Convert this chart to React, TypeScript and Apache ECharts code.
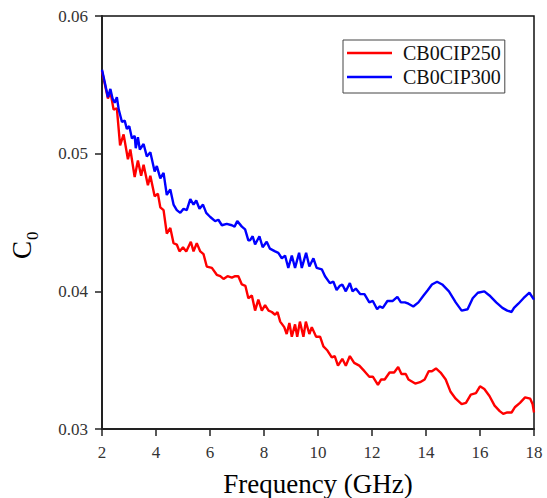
import React, { useEffect, useRef } from "react";
import * as echarts from "echarts";

const seriesNames = ["CB0CIP250", "CB0CIP300"];
const xTicks = [2, 4, 6, 8, 10, 12, 14, 16, 18];
const yTicks = [0.03, 0.04, 0.05, 0.06];

const freq250 = [
  2.0, 2.1, 2.22, 2.31, 2.43, 2.55, 2.67, 2.8, 2.96, 3.05, 3.21, 3.33, 3.45, 3.54, 3.7, 3.79, 3.95, 4.07, 4.16, 4.28,
  4.4, 4.53, 4.65, 4.77, 4.87, 5.0, 5.12, 5.29, 5.39, 5.51, 5.64, 5.76, 5.88, 6.07, 6.25, 6.38, 6.5, 6.65, 6.81, 6.93,
  7.05, 7.18, 7.31, 7.42, 7.55, 7.67, 7.79, 7.92, 8.04, 8.17, 8.29, 8.41, 8.5, 8.6, 8.75, 8.84, 8.94, 9.03, 9.15, 9.23,
  9.33, 9.46, 9.55, 9.68, 9.77, 9.93, 10.08, 10.2, 10.35, 10.51, 10.62, 10.74, 10.9, 11.03, 11.18, 11.34, 11.53, 11.72,
  11.9, 12.03, 12.22, 12.34, 12.47, 12.65, 12.82, 12.97, 13.09, 13.25, 13.35, 13.6, 13.78, 13.95, 14.1, 14.22, 14.37,
  14.54, 14.73, 14.91, 15.1, 15.32, 15.48, 15.66, 15.85, 16.0, 16.16, 16.35, 16.54, 16.73, 16.86, 17.01, 17.17, 17.3,
  17.48, 17.67, 17.86, 17.95, 18.0,
];
const c250 = [
  0.056, 0.0551, 0.054, 0.0545, 0.0532, 0.0533, 0.0506, 0.0514, 0.0496, 0.0503, 0.0483, 0.0495, 0.0484, 0.0492, 0.0477,
  0.0484, 0.0469, 0.0471, 0.0461, 0.0459, 0.0442, 0.0446, 0.0435, 0.0434, 0.0429, 0.0432, 0.0429, 0.0436, 0.0429, 0.0435,
  0.0429, 0.0427, 0.0418, 0.0417, 0.0412, 0.0411, 0.0409, 0.0411, 0.041, 0.0411, 0.0411, 0.0405, 0.0404, 0.0395, 0.0397,
  0.0386, 0.0394, 0.0386, 0.039, 0.0386, 0.0385, 0.0383, 0.0385, 0.0378, 0.0374, 0.0369, 0.0377, 0.0367, 0.0376, 0.0367,
  0.0378, 0.0367, 0.0378, 0.0369, 0.0374, 0.0367, 0.0367, 0.036, 0.0357, 0.0352, 0.0353, 0.0346, 0.0351, 0.0346, 0.0353,
  0.0348, 0.0346, 0.0342, 0.0338, 0.0338, 0.0332, 0.0336, 0.0336, 0.0341, 0.0341, 0.0345, 0.034, 0.034, 0.0336, 0.0333,
  0.0334, 0.0336, 0.0342, 0.0342, 0.0344, 0.0341, 0.0336, 0.0327, 0.0322, 0.0318, 0.0319, 0.0325, 0.0326, 0.0331, 0.0329,
  0.0324, 0.0317, 0.0313, 0.0311, 0.0312, 0.0312, 0.0316, 0.0319, 0.0323, 0.0322, 0.0318, 0.0312,
];

const freq300 = [
  2.0, 2.1, 2.22, 2.31, 2.39, 2.47, 2.55, 2.62, 2.74, 2.84, 2.92, 3.01, 3.11, 3.21, 3.25, 3.33, 3.4, 3.54, 3.66, 3.79,
  3.95, 4.03, 4.16, 4.28, 4.4, 4.53, 4.65, 4.77, 4.9, 5.02, 5.14, 5.27, 5.39, 5.49, 5.61, 5.74, 5.86, 6.01, 6.19, 6.31,
  6.44, 6.62, 6.81, 6.91, 7.01, 7.18, 7.3, 7.42, 7.48, 7.58, 7.67, 7.83, 7.95, 8.1, 8.22, 8.41, 8.53, 8.66, 8.78, 8.9,
  9.03, 9.15, 9.3, 9.4, 9.56, 9.68, 9.83, 9.95, 10.14, 10.26, 10.44, 10.57, 10.69, 10.81, 10.9, 11.03, 11.18, 11.28,
  11.4, 11.56, 11.72, 11.9, 12.03, 12.19, 12.28, 12.4, 12.57, 12.77, 12.94, 13.07, 13.22, 13.35, 13.53, 13.72, 13.91,
  14.07, 14.22, 14.41, 14.6, 14.85, 15.1, 15.32, 15.54, 15.73, 15.92, 16.16, 16.35, 16.6, 16.83, 17.01, 17.17, 17.26,
  17.42, 17.61, 17.83, 18.0,
];
const c300 = [
  0.0561, 0.0552, 0.0541, 0.0547, 0.054, 0.0537, 0.0541, 0.0532, 0.0523, 0.0524, 0.0518, 0.052, 0.0511, 0.0513, 0.0504,
  0.0512, 0.0503, 0.0507, 0.0498, 0.0501, 0.0487, 0.0491, 0.0482, 0.0486, 0.047, 0.0474, 0.0463, 0.0459, 0.0457, 0.046,
  0.0459, 0.0467, 0.0463, 0.0466, 0.046, 0.0463, 0.0457, 0.0454, 0.0451, 0.0452, 0.0448, 0.0449, 0.0448, 0.0447, 0.0451,
  0.0447, 0.0445, 0.0437, 0.0437, 0.044, 0.0434, 0.044, 0.0432, 0.0436, 0.0431, 0.0429, 0.0428, 0.0424, 0.0426, 0.0417,
  0.0426, 0.0417, 0.0428, 0.0417, 0.0428, 0.0418, 0.0424, 0.0417, 0.0416, 0.0411, 0.0406, 0.0407, 0.0401, 0.0404, 0.0405,
  0.04, 0.0406, 0.04, 0.0402, 0.0398, 0.0398, 0.0392, 0.0393, 0.0387, 0.0389, 0.0388, 0.0393, 0.0393, 0.0396, 0.0392,
  0.0392, 0.0391, 0.0389, 0.0392, 0.0397, 0.0401, 0.0405, 0.0407, 0.0405, 0.04, 0.0392, 0.0386, 0.0387, 0.0395, 0.0399,
  0.04, 0.0397, 0.0392, 0.0388, 0.0386, 0.0385, 0.0388, 0.0391, 0.0395, 0.0399, 0.0394,
];

const FONT = "Liberation Serif";

export default function App() {
  const ref = useRef<HTMLDivElement>(null);
  useEffect(() => {
    if (!ref.current) return;
    const chart = echarts.init(ref.current, undefined, { renderer: "svg" });
    const d250 = freq250.map((f, i) => [f, c250[i]]);
    const d300 = freq300.map((f, i) => [f, c300[i]]);
    chart.setOption({
      animation: false,
      backgroundColor: "#ffffff",
      textStyle: { fontFamily: FONT },
      grid: {
        left: 102,
        right: 13,
        top: 16,
        bottom: 69,
        outerBoundsMode: "none",
        containLabel: false,
        show: true,
        borderColor: "#111",
        borderWidth: 1.5,
        backgroundColor: "transparent",
      },
      legend: {
        data: seriesNames,
        left: 343,
        top: 40,
        orient: "vertical",
        icon: "rect",
        itemWidth: 45,
        itemHeight: 2.5,
        itemGap: 4,
        padding: [3, 4, 6, 4],
        borderColor: "#444",
        borderWidth: 1,
        textStyle: { fontFamily: FONT, fontSize: 20, color: "#111", padding: [0, 0, 0, 6] },
      },
      xAxis: {
        type: "value",
        min: xTicks[0],
        max: xTicks[xTicks.length - 1],
        interval: 2,
        name: "Frequency (GHz)",
        nameLocation: "middle",
        nameGap: 41,
        nameTextStyle: { fontFamily: FONT, fontSize: 27, color: "#000" },
        axisLine: { show: true, onZero: false, lineStyle: { color: "#222", width: 2 } },
        axisTick: { show: true, inside: false, length: 7, lineStyle: { color: "#222", width: 1.5 } },
        axisLabel: { fontFamily: FONT, fontSize: 17, color: "#333", margin: 15 },
        splitLine: { show: false },
      },
      yAxis: {
        type: "value",
        min: yTicks[0],
        max: yTicks[yTicks.length - 1],
        interval: 0.01,
        axisLine: { show: true, onZero: false, lineStyle: { color: "#222", width: 2 } },
        axisTick: { show: true, inside: false, length: 7, lineStyle: { color: "#222", width: 1.5 } },
        axisLabel: {
          fontFamily: FONT,
          fontSize: 17,
          color: "#333",
          margin: 14,
          formatter: (v: number) => v.toFixed(2),
        },
        splitLine: { show: false },
      },
      graphic: [
        {
          type: "text",
          x: 21.7,
          y: 250,
          rotation: Math.PI / 2,
          style: { text: "C", fontFamily: FONT, fontSize: 27, fill: "#000", align: "center", verticalAlign: "middle" },
        },
        {
          type: "text",
          x: 32.5,
          y: 235.8,
          rotation: Math.PI / 2,
          style: { text: "0", fontFamily: FONT, fontSize: 17, fill: "#000", align: "center", verticalAlign: "middle" },
        },
      ],
      series: [
        {
          name: seriesNames[0],
          type: "line",
          data: d250,
          showSymbol: false,
          symbol: "none",
          lineStyle: { color: "#ff0000", width: 2.4 },
          itemStyle: { color: "#ff0000" },
        },
        {
          name: seriesNames[1],
          type: "line",
          data: d300,
          showSymbol: false,
          symbol: "none",
          lineStyle: { color: "#0000ff", width: 2.4 },
          itemStyle: { color: "#0000ff" },
        },
      ],
    });
    return () => chart.dispose();
  }, []);
  return (
    <div
      ref={ref}
      style={{ position: "fixed", left: 0, top: 0, width: 547, height: 498, background: "#fff" }}
    />
  );
}
